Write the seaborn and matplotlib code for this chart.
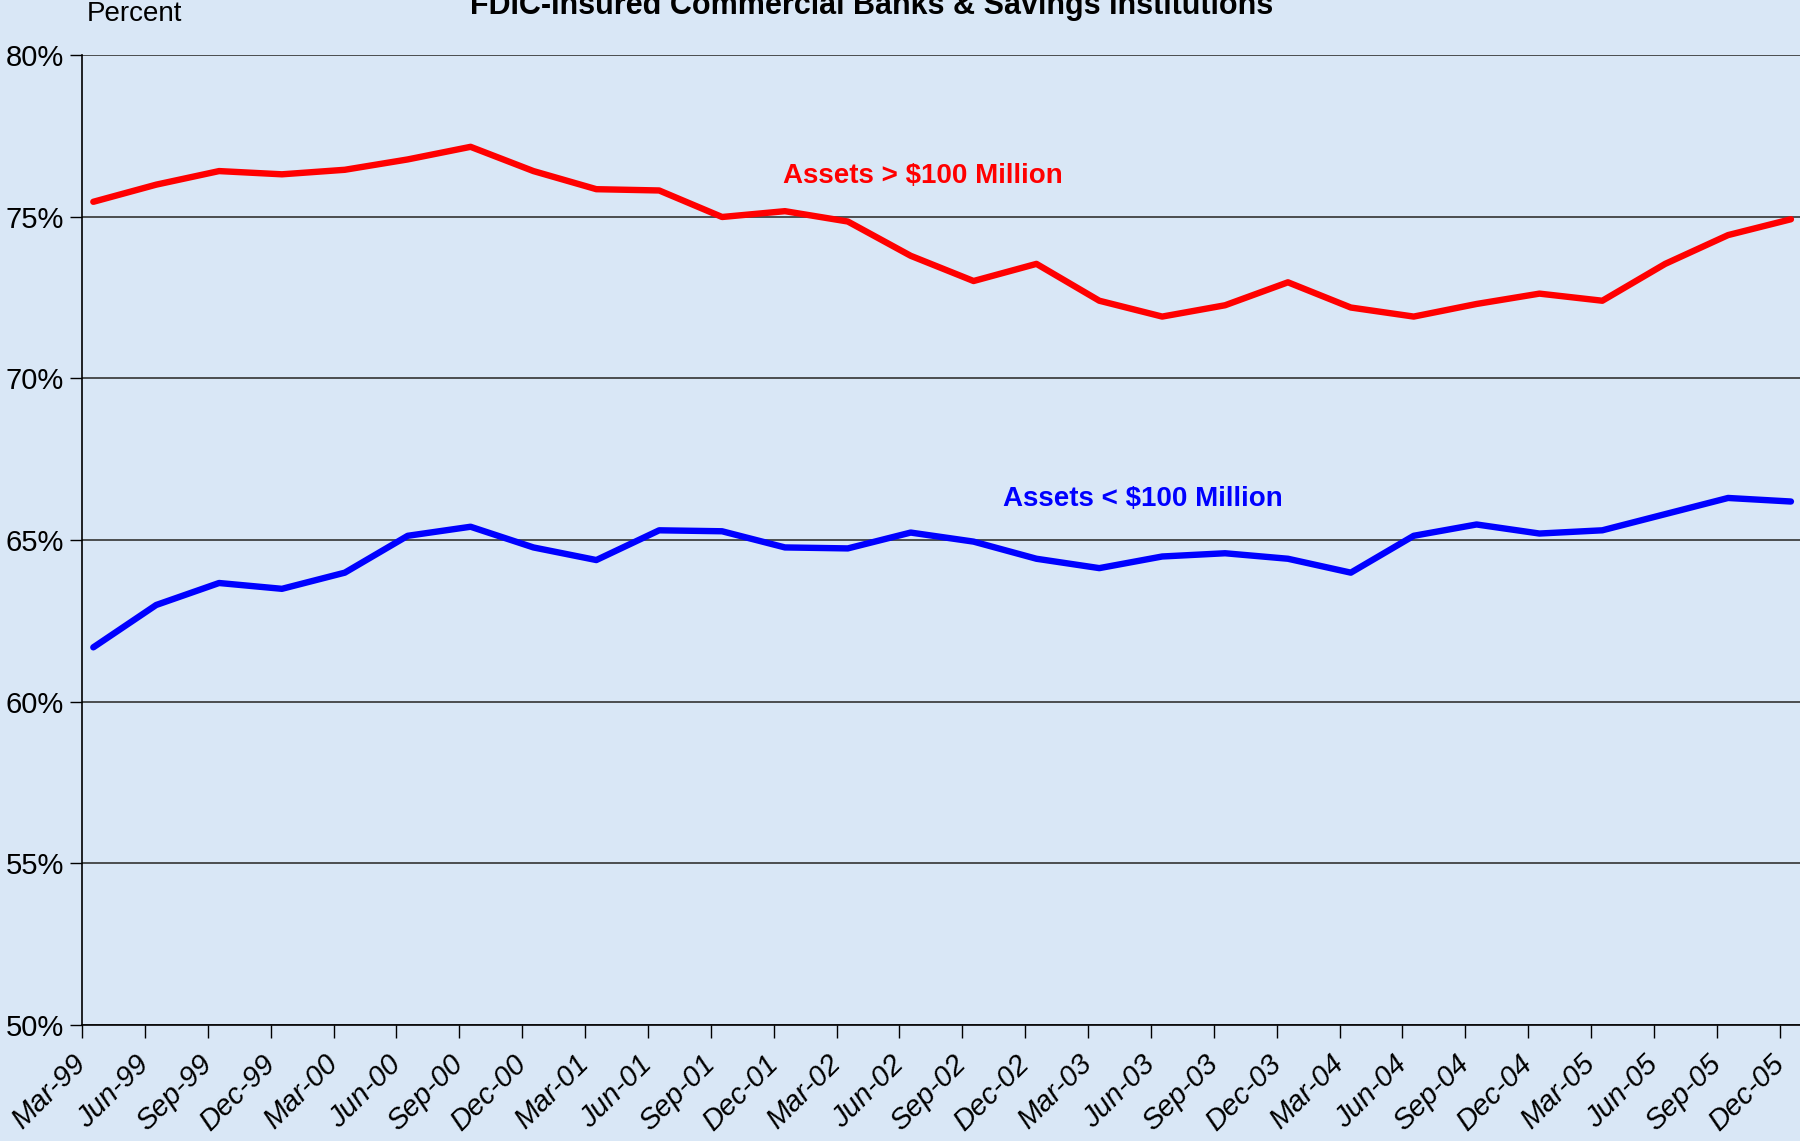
import matplotlib
matplotlib.use("Agg")
import matplotlib.pyplot as plt
import seaborn as sns
import pandas as pd
import numpy as np
from matplotlib import font_manager

quarters = ["Mar-99", "Jun-99", "Sep-99", "Dec-99", "Mar-00", "Jun-00", "Sep-00", "Dec-00",
            "Mar-01", "Jun-01", "Sep-01", "Dec-01", "Mar-02", "Jun-02", "Sep-02", "Dec-02",
            "Mar-03", "Jun-03", "Sep-03", "Dec-03", "Mar-04", "Jun-04", "Sep-04", "Dec-04",
            "Mar-05", "Jun-05", "Sep-05", "Dec-05"]
large_banks = [75.46, 75.99, 76.41, 76.31, 76.45, 76.77, 77.16, 76.41,
               75.85, 75.81, 74.99, 75.17, 74.85, 73.79, 73.01, 73.54,
               72.40, 71.91, 72.26, 72.97, 72.19, 71.91, 72.30, 72.62,
               72.40, 73.54, 74.43, 74.92]
small_banks = [61.68, 62.99, 63.67, 63.49, 63.99, 65.13, 65.41, 64.77,
               64.38, 65.30, 65.27, 64.77, 64.74, 65.23, 64.95, 64.42,
               64.13, 64.49, 64.59, 64.42, 63.99, 65.13, 65.48, 65.20,
               65.30, 65.80, 66.30, 66.19]
y_ticks = [50, 55, 60, 65, 70, 75, 80]

sns.set_theme(style="white")
available = {f.name for f in font_manager.fontManager.ttflist}
fam = [f for f in ["Liberation Sans Narrow", "Liberation Sans", "DejaVu Sans"] if f in available]
plt.rcParams["font.family"] = fam
plt.rcParams["text.color"] = "black"

bg = "#d9e7f6"
fig = plt.figure(figsize=(18, 11.41), dpi=100, facecolor=bg)
ax = fig.add_axes([82 / 1800, 1 - 1025 / 1141, 1 - 82 / 1800, (1025 - 55) / 1141])
ax.set_facecolor(bg)

df = pd.DataFrame({"x": np.arange(len(quarters)), "large": large_banks, "small": small_banks})
sns.lineplot(data=df, x="x", y="large", ax=ax, color="#ff0000", linewidth=4.6, solid_capstyle="round")
sns.lineplot(data=df, x="x", y="small", ax=ax, color="#0000ff", linewidth=4.6, solid_capstyle="round")

off = 0.18
ax.set_xlim(-off, (1800 - 94) / 62.85)
ax.set_ylim(50, 80)
ax.set_yticks(y_ticks)
ax.set_yticklabels([f"{v}%" for v in y_ticks], fontsize=21, color="black")
ax.set_xticks(np.arange(len(quarters)) - off)
ax.set_xticklabels(quarters, rotation=45, ha="right", va="center", rotation_mode="anchor",
                   fontsize=21, style="italic", color="black")
ax.set_xlabel("")
ax.set_ylabel("")
ax.grid(axis="y", color="#333333", linewidth=1.2)
ax.grid(axis="x", visible=False)
for s in ["top", "right"]:
    ax.spines[s].set_visible(False)
for s in ["left", "bottom"]:
    ax.spines[s].set_color("black")
    ax.spines[s].set_linewidth(1.2)
ax.tick_params(axis="x", direction="out", length=9, width=1, color="black", pad=16)
ax.tick_params(axis="y", direction="out", length=9, width=1, color="black", pad=4)
ax.tick_params(axis="both", bottom=True, left=True)

ax.text(13.2, 76.27, "Assets > $100 Million", color="#ff0000", fontsize=20,
        fontweight="bold", ha="center", va="center")
ax.text(16.7, 66.26, "Assets < $100 Million", color="#0000ff", fontsize=20,
        fontweight="bold", ha="center", va="center")

fig.text(87 / 1800, 1 - 14 / 1141, "Percent", fontsize=20, ha="left", va="center", color="black")
fig.text(0.484, 1 - 14 / 1141, "FDIC-Insured Commercial Banks & Savings Institutions",
         fontsize=22, fontweight="bold", ha="center", va="baseline", color="black")

fig.savefig("out.png", dpi=100, facecolor=bg)
